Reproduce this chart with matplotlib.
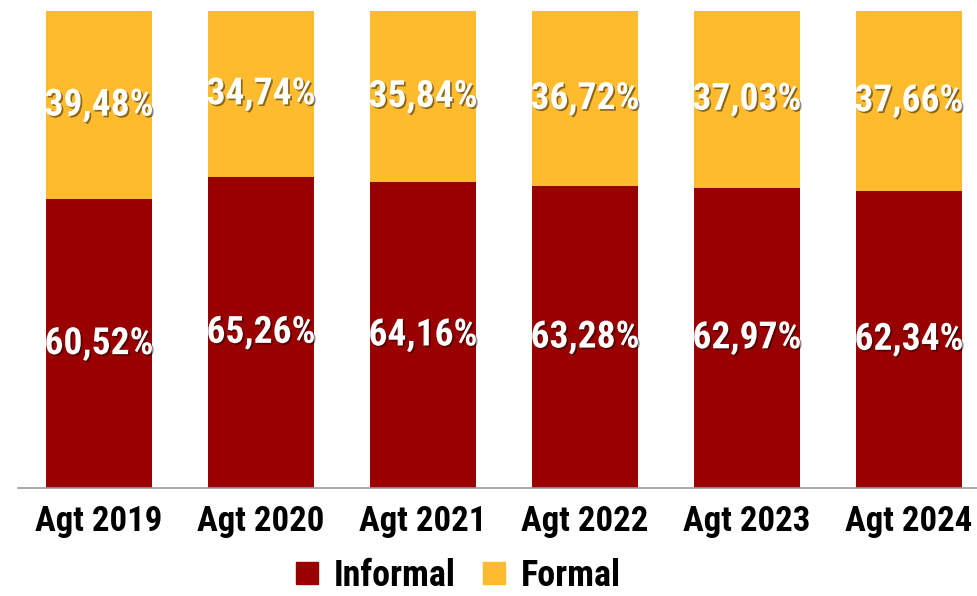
import matplotlib
matplotlib.use("Agg")
import matplotlib.pyplot as plt
import matplotlib.patheffects as pe
from matplotlib.lines import Line2D
from matplotlib import font_manager

categories = ["Agt 2019", "Agt 2020", "Agt 2021", "Agt 2022", "Agt 2023", "Agt 2024"]
informal = [60.52, 65.26, 64.16, 63.28, 62.97, 62.34]
formal = [39.48, 34.74, 35.84, 36.72, 37.03, 37.66]

names = {f.name for f in font_manager.fontManager.ttflist}
fam = [f for f in ["Roboto Condensed", "Liberation Sans Narrow", "Liberation Sans"] if f in names] + ["DejaVu Sans"]
plt.rcParams['font.family'] = fam

RED = "#990000"
YEL = "#FDBB2D"

fig = plt.figure(figsize=(9.77, 5.96), dpi=100)
ax = fig.add_axes([18/977, 1-488/596, 1-18/977, (488-11)/596])
x = list(range(len(categories)))
w = 0.654
ax.bar(x, informal, width=w, color=RED, label="Informal")
ax.bar(x, formal, width=w, bottom=informal, color=YEL, label="Formal")
ax.set_xlim(-0.5, 5.42)
ax.set_ylim(0, 100)

shadow = [pe.withSimplePatchShadow(offset=(1.2, -1.2), shadow_rgbFace="black", alpha=0.45)]
for xi, a, b in zip(x, informal, formal):
    ax.text(xi, a/2, f"{a:.2f}%".replace(".", ","), ha="center", va="center",
            color="white", fontsize=27, fontweight="bold", path_effects=shadow)
    ax.text(xi, a + b/2, f"{b:.2f}%".replace(".", ","), ha="center", va="center",
            color="white", fontsize=27, fontweight="bold", path_effects=shadow)

for s in ["top", "right", "left"]:
    ax.spines[s].set_visible(False)
ax.spines["bottom"].set_color("#999999")
ax.spines["bottom"].set_linewidth(1.2)
ax.set_yticks([])
ax.set_xticks(x)
ax.set_xticklabels(categories, fontsize=25, fontweight="bold")
ax.tick_params(axis="x", length=0, pad=12)

handles = [Line2D([], [], marker="s", linestyle="none", markersize=16, color=RED),
           Line2D([], [], marker="s", linestyle="none", markersize=16, color=YEL)]
fig.legend(handles, ["Informal", "Formal"], loc="center", bbox_to_anchor=(456/977, 1-576/596),
           ncol=2, frameon=False, prop={"size": 26, "weight": "bold"},
           handletextpad=0.3, columnspacing=0.6, handlelength=0.9,
           borderpad=0.1, borderaxespad=0.0)

fig.savefig("out.png", dpi=100)
